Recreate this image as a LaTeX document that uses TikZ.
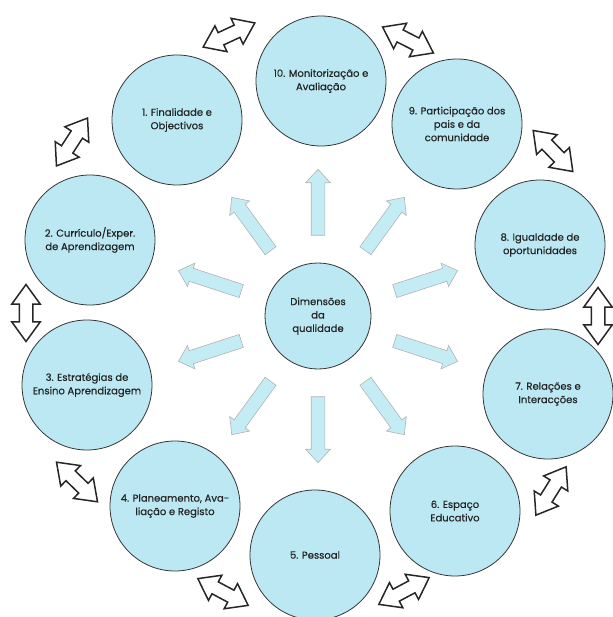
\documentclass[tikz,border=0pt]{standalone}
\usepackage{fontspec}
\setmainfont{Poppins}[FakeBold=0.4]
\usetikzlibrary{shapes.arrows,calc}
\definecolor{circfill}{RGB}{188,232,243}
\definecolor{arrfill}{RGB}{196,236,245}
\definecolor{txt}{RGB}{35,35,35}
\tikzset{
  dim/.style={circle, draw=black!80, line width=0.8pt, fill=circfill, minimum size=130pt, inner sep=0pt,
     align=center, font=\fontsize{10}{13.4}\selectfont, text=txt},
  centre/.style={dim, minimum size=106pt},
  link/.style={double arrow, draw=black!85, line width=1.5pt, fill=white, inner sep=0pt,
     minimum width=0pt, minimum height=57pt, double arrow head extend=7.5pt, double arrow tip angle=72},
  ray/.style={single arrow, draw=black!30, line width=0.6pt, fill=arrfill, inner sep=0pt,
     minimum width=0pt, minimum height=66pt, single arrow head extend=5.5pt, single arrow tip angle=85}
}
\begin{document}
\begin{tikzpicture}[x=1pt,y=1pt]
\useasboundingbox (0,0) rectangle (612,-617);
\node[centre] (c) at (318,-316) {Dimensões\\da\\qualidade};
\node[dim] (d1) at (177,-120) {1. Finalidade e\\Objectivos};
\node[dim] (d2) at (90,-240) {2. Currículo/Exper.\\de Aprendizagem};
\node[dim] (d3) at (87,-385) {3. Estratégias de\\Ensino Aprendizagem};
\node[dim] (d4) at (175,-506) {4. Planeamento, Ava-\\liação e Registo};
\node[dim] (d5) at (315,-555) {5. Pessoal};
\node[dim] (d6) at (455,-511) {6. Espaço\\Educativo};
\node[dim] (d7) at (548,-394) {7. Relações e\\Interacções};
\node[dim] (d8) at (540,-245) {8. Igualdade de\\oportunidades};
\node[dim] (d9) at (457,-124) {9. Participação dos\\pais e da\\comunidade};
\node[dim] (d10) at (321,-81) {10. Monitorização e\\Avaliação};
% links between neighbouring dimensions
\node[link, rotate=25] (l1) at (229,-35) {\rule{0pt}{12pt}};
\node[link, rotate=-27] (l2) at (408,-40) {\rule{0pt}{12pt}};
\node[link, rotate=-46] (l3) at (553,-151) {\rule{0pt}{12pt}};
\node[link, rotate=90] (l4) at (598,-316) {\rule{0pt}{12pt}};
\node[link, rotate=58] (l5) at (551,-491) {\rule{0pt}{12pt}};
\node[link, rotate=28] (l6) at (404,-591) {\rule{0pt}{12pt}};
\node[link, rotate=-28] (l7) at (223,-592) {\rule{0pt}{12pt}};
\node[link, rotate=-44] (l8) at (77,-482) {\rule{0pt}{12pt}};
\node[link, rotate=90] (l9) at (26,-313) {\rule{0pt}{12pt}};
\node[link, rotate=57] (l10) at (72,-142) {\rule{0pt}{12pt}};
% rays from the centre
\foreach \a/\n in {90/r10,126/r1,162/r2,198/r3,234/r4,270/r5,306/r6,342/r7,18/r8,54/r9}{
  \node[ray, rotate=\a] (\n) at ($(c.center)+(\a:110)$) {\rule{0pt}{13pt}};
}
\end{tikzpicture}
\end{document}
